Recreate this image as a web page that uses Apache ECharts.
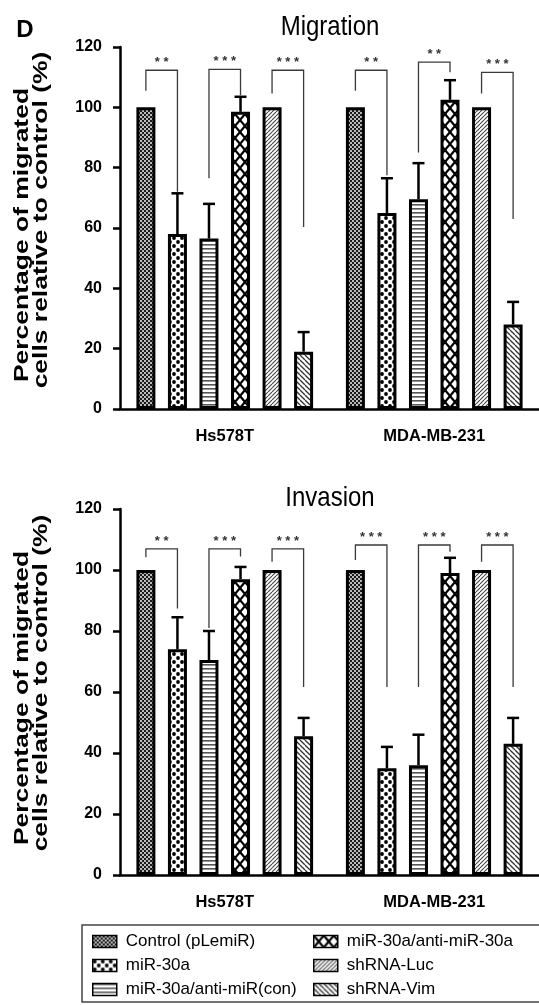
<!DOCTYPE html>
<html><head><meta charset="utf-8">
<script src="https://cdn.jsdelivr.net/npm/echarts@6/dist/echarts.min.js"></script>
<style>html,body{margin:0;padding:0;background:#fff}#c{width:539px;height:1005px}</style>
</head><body><div id="c"></div>
<script>
// ---------- DATA ----------
const categories = ['Hs578T', 'MDA-MB-231'];
const seriesNames = ['Control (pLemiR)', 'miR-30a', 'miR-30a/anti-miR(con)', 'miR-30a/anti-miR-30a', 'shRNA-Luc', 'shRNA-Vim'];
const yTicks = [0, 20, 40, 60, 80, 100, 120];
const titles = ['Migration', 'Invasion'];
const yTitleLines = ['Percentage of migrated', 'cells relative to control (%)'];

// Migration: values per series for [Hs578T, MDA-MB-231]
const migControl = [100, 100];
const migMiR30a = [58, 65];
const migAntiCon = [56.5, 69.5];
const migAnti30a = [98.5, 102.5];
const migShLuc = [100, 100];
const migShVim = [19, 28];
// Migration: top of error bars (null = none)
const migErrControl = [null, null];
const migErrMiR30a = [71.5, 76.5];
const migErrAntiCon = [68, 81.5];
const migErrAnti30a = [103.5, 109];
const migErrShLuc = [null, null];
const migErrShVim = [25.5, 35.5];

// Invasion
const invControl = [100, 100];
const invMiR30a = [74, 35];
const invAntiCon = [70.5, 36];
const invAnti30a = [97, 99];
const invShLuc = [100, 100];
const invShVim = [45.5, 43];
const invErrControl = [null, null];
const invErrMiR30a = [84.5, 42];
const invErrAntiCon = [80, 46];
const invErrAnti30a = [101, 104];
const invErrShLuc = [null, null];
const invErrShVim = [51.5, 51.5];

// Significance brackets: [category, leftSeries, rightSeries, leftLegBottom, top, rightLegBottom]
const migBrackets = [
  [0, 0, 1, 105.5, 112.3, 72],
  [0, 2, 3, 76.5, 112.6, 104],
  [0, 4, 5, 104.6, 112.3, 60.3],
  [1, 0, 1, 105.5, 112.3, 77.5],
  [1, 2, 3, 85, 115, 111.6],
  [1, 4, 5, 104.6, 111.6, 63]
];
const migBracketLabels = ['**', '***', '***', '**', '**', '***'];
const invBrackets = [
  [0, 0, 1, 104.2, 106.9, 87.4],
  [0, 2, 3, 81, 106.9, 104.4],
  [0, 4, 5, 102.7, 106.9, 61.6],
  [1, 0, 1, 103.3, 108.2, 61.6],
  [1, 2, 3, 61.6, 108.2, 106],
  [1, 4, 5, 102.7, 108.2, 61.6]
];
const invBracketLabels = ['**', '***', '***', '***', '***', '***'];

// ---------- helpers ----------
const SANS = "'Liberation Sans', Arial, sans-serif";

function pat(w, h, draw) {
  const cv = document.createElement('canvas');
  cv.width = w; cv.height = h;
  const ctx = cv.getContext('2d');
  ctx.fillStyle = '#fff'; ctx.fillRect(0, 0, w, h);
  draw(ctx, w, h);
  return { image: cv, repeat: 'repeat' };
}
function diag(ctx, w, h, dir, color, lw) {
  ctx.strokeStyle = color; ctx.lineWidth = lw;
  for (let dx = -w; dx <= w; dx += w) {
    ctx.beginPath();
    if (dir > 0) { ctx.moveTo(dx, h); ctx.lineTo(dx + w, 0); }
    else { ctx.moveTo(dx, 0); ctx.lineTo(dx + w, h); }
    ctx.stroke();
  }
}
const patterns = [
  pat(4, 4, (c) => { c.fillStyle = '#1a1a1a'; c.fillRect(0, 0, 4, 4); c.fillStyle = '#fff';
    c.beginPath(); c.arc(1, 1, 0.95, 0, 7); c.fill(); c.beginPath(); c.arc(3, 3, 0.95, 0, 7); c.fill(); }),
  pat(8, 8, (c) => { c.fillStyle = '#000';
    c.beginPath(); c.arc(2, 2, 1.9, 0, 7); c.fill(); c.beginPath(); c.arc(6, 6, 1.9, 0, 7); c.fill(); }),
  pat(4, 4, (c) => { c.fillStyle = '#555'; c.fillRect(0, 0, 4, 1.6); }),
  pat(10, 12, (c, w, h) => { diag(c, w, h, 1, '#000', 2.2); diag(c, w, h, -1, '#000', 2.2); }),
  pat(4, 4, (c, w, h) => { diag(c, w, h, 1, '#444', 1.1); }),
  pat(5, 5, (c, w, h) => { diag(c, w, h, -1, '#333', 1.3); })
];

const BAR_W = 19, BAR_GAP = 0.66;
function barOffset(s) { return (s - 2.5) * BAR_W * (1 + BAR_GAP); }

const migVals = [migControl, migMiR30a, migAntiCon, migAnti30a, migShLuc, migShVim];
const migErrs = [migErrControl, migErrMiR30a, migErrAntiCon, migErrAnti30a, migErrShLuc, migErrShVim];
const invVals = [invControl, invMiR30a, invAntiCon, invAnti30a, invShLuc, invShVim];
const invErrs = [invErrControl, invErrMiR30a, invErrAntiCon, invErrAnti30a, invErrShLuc, invErrShVim];

function errData(vals, errs) {
  const out = [];
  for (let s = 0; s < vals.length; s++)
    for (let c = 0; c < categories.length; c++)
      if (errs[s][c] != null) out.push([c, s, vals[s][c], errs[s][c]]);
  return out;
}

function errRender(params, api) {
  const cat = api.value(0), s = api.value(1), v = api.value(2), e = api.value(3);
  const cx = api.coord([cat, 0])[0] + barOffset(s);
  const y0 = api.coord([cat, v])[1], y1 = api.coord([cat, e])[1];
  return { type: 'group', children: [
    { type: 'line', shape: { x1: cx, y1: y0, x2: cx, y2: y1 }, style: { stroke: '#000', lineWidth: 2.5 } },
    { type: 'line', shape: { x1: cx - 6, y1: y1, x2: cx + 6, y2: y1 }, style: { stroke: '#000', lineWidth: 2.5 } }
  ]};
}
function bracketRender(labels) {
  return function (params, api) {
    const cat = api.value(0), sl = api.value(1), sr = api.value(2);
    const base = api.coord([cat, 0])[0];
    const xl = base + barOffset(sl), xr = base + barOffset(sr);
    const yl = api.coord([cat, api.value(3)])[1];
    const yt = api.coord([cat, api.value(4)])[1];
    const yr = api.coord([cat, api.value(5)])[1];
    return { type: 'group', children: [
      { type: 'polyline', shape: { points: [[xl, yl], [xl, yt], [xr, yt], [xr, yr]] },
        style: { stroke: '#3a3a3a', lineWidth: 1.3, fill: null } },
      { type: 'text', x: (xl + xr) / 2, y: yt - 1,
        style: { text: labels[params.dataIndex].split('').join(' '), fill: '#333',
          font: "bold 13px " + SANS, align: 'center', verticalAlign: 'bottom',
          textAlign: 'center', textVerticalAlign: 'bottom' } }
    ]};
  };
}

const grids = [
  { left: 120, top: 47, right: 0, height: 362 },
  { left: 120, top: 509, right: 0, height: 366 }
];
const axisCol = '#000';
function xAx(g) {
  return { gridIndex: g, type: 'category', data: categories,
    axisLine: { lineStyle: { color: axisCol, width: 2.5 } },
    axisTick: { alignWithLabel: true, length: 9, lineStyle: { color: axisCol, width: 2.5 } },
    axisLabel: { margin: 19, color: '#000', fontWeight: 'bold', fontFamily: SANS, fontSize: 16.5 },
    splitLine: { show: false } };
}
function yAx(g) {
  return { gridIndex: g, type: 'value', min: yTicks[0], max: yTicks[yTicks.length - 1],
    interval: yTicks[1] - yTicks[0],
    axisLine: { show: true, lineStyle: { color: axisCol, width: 2.5 } },
    axisTick: { show: true, length: 7, lineStyle: { color: axisCol, width: 2.5 } },
    axisLabel: { margin: 18, color: '#000', fontWeight: 'bold', fontFamily: SANS, fontSize: 16 },
    splitLine: { show: false } };
}

const series = [];
[migVals, invVals].forEach((vals, g) => {
  vals.forEach((arr, s) => {
    series.push({ type: 'bar', name: seriesNames[s], xAxisIndex: g, yAxisIndex: g,
      data: arr, barWidth: BAR_W, barGap: (BAR_GAP * 100) + '%',
      itemStyle: { color: patterns[s], borderColor: '#000', borderWidth: 3 },
      emphasis: { disabled: true }, z: 2 });
  });
});
series.push({ type: 'custom', xAxisIndex: 0, yAxisIndex: 0, data: errData(migVals, migErrs), renderItem: errRender, z: 3, silent: true });
series.push({ type: 'custom', xAxisIndex: 1, yAxisIndex: 1, data: errData(invVals, invErrs), renderItem: errRender, z: 3, silent: true });
series.push({ type: 'custom', xAxisIndex: 0, yAxisIndex: 0, data: migBrackets, renderItem: bracketRender(migBracketLabels), z: 3, silent: true });
series.push({ type: 'custom', xAxisIndex: 1, yAxisIndex: 1, data: invBrackets, renderItem: bracketRender(invBracketLabels), z: 3, silent: true });

function yTitle(cx1, cy1, cx2, cy2) {
  const f = "bold 21px " + SANS;
  return [
    { type: 'text', x: cx1, y: cy1, rotation: Math.PI / 2, scaleX: 1.26,
      style: { text: yTitleLines[0], font: f, fill: '#000', align: 'center', verticalAlign: 'middle', textAlign: 'center', textVerticalAlign: 'middle' } },
    { type: 'text', x: cx2, y: cy2, rotation: Math.PI / 2, scaleX: 1.26,
      style: { text: yTitleLines[1], font: f, fill: '#000', align: 'center', verticalAlign: 'middle', textAlign: 'center', textVerticalAlign: 'middle' } }
  ];
}
function title(t, x, y) {
  return { type: 'text', x: x, y: y, scaleY: 1.12,
    style: { text: t, font: "24px " + SANS, fill: '#000', align: 'center', verticalAlign: 'middle', textAlign: 'center', textVerticalAlign: 'middle' } };
}

const legendBase = { orient: 'vertical', top: 933, itemWidth: 24, itemHeight: 12, itemGap: 7, icon: 'rect',
  padding: 0, selectedMode: false,
  itemStyle: { borderColor: '#000', borderWidth: 1.5 },
  textStyle: { fontSize: 17, fontFamily: SANS, color: '#000', padding: [0, 0, 0, 4] } };

const option = {
  backgroundColor: '#fff',
  animation: false,
  grid: grids,
  xAxis: [xAx(0), xAx(1)],
  yAxis: [yAx(0), yAx(1)],
  legend: [
    Object.assign({}, legendBase, { left: 92, data: seriesNames.slice(0, 3) }),
    Object.assign({}, legendBase, { left: 313, data: seriesNames.slice(3) })
  ],
  graphic: [
    { type: 'text', x: 25, y: 30, style: { text: 'D', font: "bold 24px " + SANS, fill: '#000', align: 'center', verticalAlign: 'middle', textAlign: 'center', textVerticalAlign: 'middle' } },
    title(titles[0], 330, 28),
    title(titles[1], 330, 499),
    ...yTitle(22, 235, 41, 220),
    ...yTitle(22, 698, 41, 683),
    { type: 'rect', shape: { x: 82, y: 925, width: 470, height: 77 }, style: { fill: 'none', stroke: '#444', lineWidth: 1.5 } }
  ],
  series: series
};
const chart = echarts.init(document.getElementById('c'), null, { renderer: 'canvas' });
chart.setOption(option);
</script>
</body></html>
